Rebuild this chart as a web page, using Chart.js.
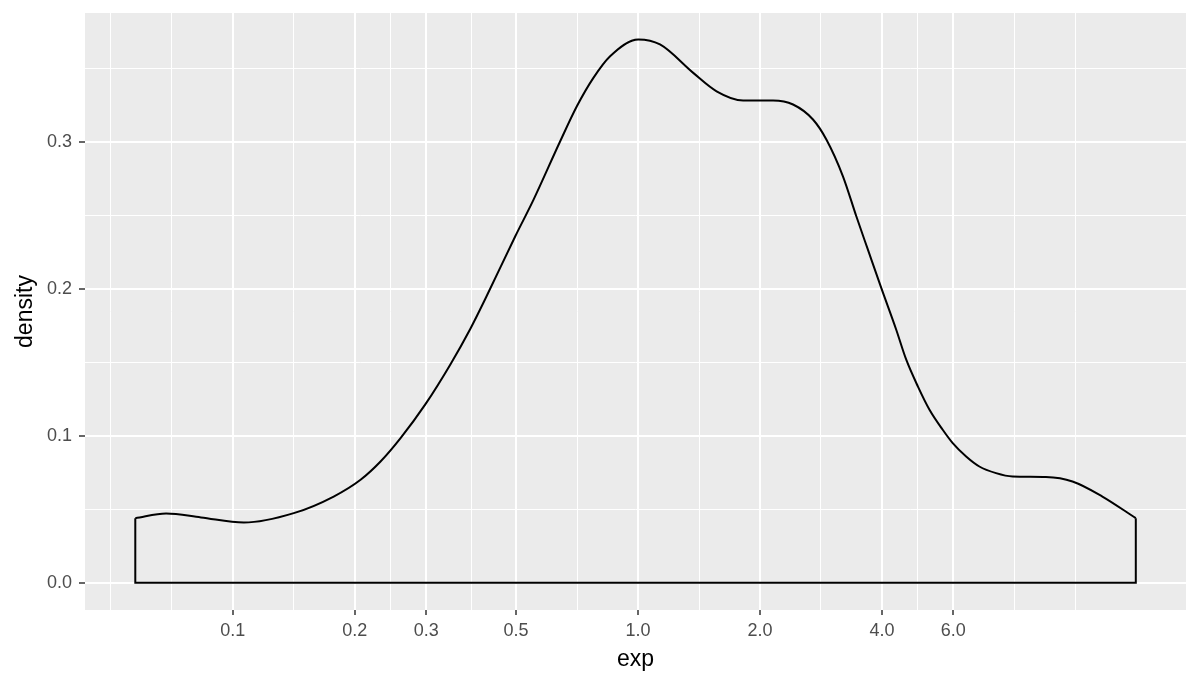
<!DOCTYPE html>
<html>
<head>
<meta charset="utf-8">
<script src="https://cdn.jsdelivr.net/npm/chart.js@4.4.1/dist/chart.umd.min.js"></script>
<style>
  html, body { margin: 0; padding: 0; background: #ffffff; }
</style>
</head>
<body>
<canvas id="densityChart" width="1200" height="685"></canvas>
<script>
// Courbe de densité (x = exp, y = densité)
const expValues = [0.05744, 0.06843, 0.0834, 0.10644, 0.14137, 0.17733, 0.20664, 0.23145, 0.25935, 0.29879,
  0.3442, 0.38569, 0.42395, 0.49777, 0.55225, 0.64249, 0.7063, 0.77592, 0.85324, 1.0017,
  1.133, 1.3683, 1.5625, 1.8168, 2.154, 2.413, 2.7025, 2.916, 3.204, 3.457,
  3.6925, 3.9833, 4.3374, 4.5914, 4.904, 5.24, 5.6486, 5.9797, 6.4529, 6.957,
  7.6474, 8.4017, 10.155, 11.809, 13.996, 16.923];
const densityValues = [0.0440, 0.0472, 0.0445, 0.0410, 0.0474, 0.0587, 0.0701, 0.0825, 0.0984, 0.1215,
  0.1485, 0.1728, 0.1955, 0.2356, 0.2605, 0.3002, 0.324, 0.3433, 0.358, 0.3694,
  0.366, 0.3467, 0.3342, 0.3279, 0.3279, 0.3252, 0.315, 0.3014, 0.2764, 0.2492,
  0.2265, 0.2005, 0.1721, 0.1517, 0.1336, 0.1177, 0.1041, 0.0950, 0.0859, 0.0791,
  0.0746, 0.0723, 0.0719, 0.0689, 0.0587, 0.0440];

// Axes
const xMajorBreaks = [0.1, 0.2, 0.3, 0.5, 1, 2, 4, 6];
const xMajorLabels = ['0.1', '0.2', '0.3', '0.5', '1.0', '2.0', '4.0', '6.0'];
const xMinorBreaks = [0.05, 0.0707, 0.1414, 0.2449, 0.3873, 0.7071, 1.4142, 2.8284, 4.899, 8.4853, 12];
const yMajorBreaks = [0, 0.1, 0.2, 0.3];
const yMajorLabels = ['0.0', '0.1', '0.2', '0.3'];
const yMinorBreaks = [0.05, 0.15, 0.25, 0.35];

const near = (a, b) => Math.abs(a - b) < 1e-6 * Math.max(1, Math.abs(b));
const isXMajor = v => xMajorBreaks.some(b => near(v, b));
const isYMajor = v => yMajorBreaks.some(b => near(v, b));

const curve = expValues.map((x, i) => ({ x: x, y: densityValues[i] }));
const n = expValues.length;
// contour fermé : bords verticaux et ligne de base
const outline = [
  { x: expValues[0], y: densityValues[0] },
  { x: expValues[0], y: 0 },
  { x: expValues[n - 1], y: 0 },
  { x: expValues[n - 1], y: densityValues[n - 1] }
];

const panelBg = {
  id: 'panelBg',
  beforeDraw(chart) {
    const a = chart.chartArea;
    const ctx = chart.ctx;
    ctx.save();
    ctx.fillStyle = '#EBEBEB';
    ctx.fillRect(a.left, a.top, a.right - a.left, a.bottom - a.top);
    ctx.restore();
  }
};

const FONT = '"Liberation Sans", Arial, sans-serif';

new Chart(document.getElementById('densityChart').getContext('2d'), {
  type: 'scatter',
  data: {
    datasets: [
      {
        data: curve,
        showLine: true,
        borderColor: '#000000',
        borderWidth: 2,
        pointRadius: 0,
        fill: false,
        cubicInterpolationMode: 'monotone'
      },
      {
        data: outline,
        showLine: true,
        borderColor: '#000000',
        borderWidth: 2,
        pointRadius: 0,
        fill: false,
        tension: 0
      }
    ]
  },
  options: {
    responsive: false,
    animation: false,
    layout: { padding: { top: 13, right: 14, left: 0, bottom: 0 } },
    plugins: { legend: { display: false }, tooltip: { enabled: false } },
    scales: {
      x: {
        type: 'logarithmic',
        min: 0.04316,
        max: 22.51,
        afterBuildTicks: scale => {
          scale.ticks = xMinorBreaks.concat(xMajorBreaks).sort((a, b) => a - b).map(v => ({ value: v }));
        },
        afterFit: scale => {
          scale.height = 75;
          scale.paddingLeft = 0;
          scale.paddingRight = 0;
        },
        border: { display: false },
        grid: {
          color: '#FFFFFF',
          lineWidth: ctx => (ctx.tick && isXMajor(ctx.tick.value)) ? 2 : 1,
          tickColor: ctx => (ctx.tick && isXMajor(ctx.tick.value)) ? '#333333' : 'rgba(0,0,0,0)',
          tickWidth: 1.5,
          tickLength: 5
        },
        ticks: {
          autoSkip: false,
          maxRotation: 0,
          padding: 5,
          color: '#4D4D4D',
          font: { family: FONT, size: 18 },
          callback: function(value) {
            const i = xMajorBreaks.findIndex(b => near(value, b));
            return i >= 0 ? xMajorLabels[i] : '';
          }
        },
        title: {
          display: true,
          text: 'exp',
          color: '#000000',
          font: { family: FONT, size: 23 },
          padding: { top: 4, bottom: 12 }
        }
      },
      y: {
        type: 'linear',
        min: -0.01845,
        max: 0.3874,
        afterBuildTicks: scale => {
          scale.ticks = yMinorBreaks.concat(yMajorBreaks).sort((a, b) => a - b).map(v => ({ value: v }));
        },
        afterFit: scale => {
          scale.width = 85;
          scale.paddingTop = 0;
          scale.paddingBottom = 0;
        },
        border: { display: false },
        grid: {
          color: '#FFFFFF',
          lineWidth: ctx => (ctx.tick && isYMajor(ctx.tick.value)) ? 2 : 1,
          tickColor: ctx => (ctx.tick && isYMajor(ctx.tick.value)) ? '#333333' : 'rgba(0,0,0,0)',
          tickWidth: 1.5,
          tickLength: 6
        },
        ticks: {
          autoSkip: false,
          padding: 7,
          color: '#4D4D4D',
          font: { family: FONT, size: 18 },
          callback: function(value) {
            const i = yMajorBreaks.findIndex(b => near(value, b));
            return i >= 0 ? yMajorLabels[i] : '';
          }
        },
        title: {
          display: true,
          text: 'density',
          color: '#000000',
          font: { family: FONT, size: 23 },
          padding: { top: 12, bottom: 4 }
        }
      }
    }
  },
  plugins: [panelBg]
});
</script>
</body>
</html>
